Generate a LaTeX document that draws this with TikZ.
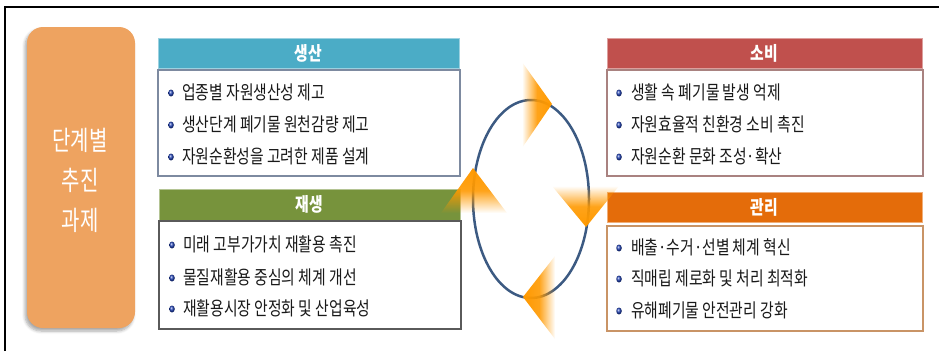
\documentclass[tikz,border=0pt]{standalone}
\usepackage{fontspec}
\newfontfamily\kr[FakeStretch=0.78]{Noto Sans CJK KR}
\newfontfamily\krbig[FakeStretch=0.74]{Noto Sans CJK KR}
\usetikzlibrary{fadings,shadows.blur,shapes.geometric}
\definecolor{cyanH}{HTML}{4BACC6}
\definecolor{greenH}{HTML}{77933C}
\definecolor{redH}{HTML}{C0504D}
\definecolor{orangeH}{HTML}{E46C0A}
\definecolor{leftbox}{HTML}{EEA360}
\definecolor{ellc}{HTML}{3C5A82}
\definecolor{arrowO}{HTML}{FF9900}
\definecolor{bB}{HTML}{7D8AA0}
\definecolor{bG}{HTML}{5A5A5A}
\definecolor{bR}{HTML}{A98280}
\definecolor{bO}{HTML}{C99466}
\definecolor{bulletc}{HTML}{2244BB}
\tikzfading[name=fadeW, left color=transparent!100, right color=transparent!0, middle color=transparent!10]
\tikzfading[name=fadeE, left color=transparent!0, right color=transparent!100, middle color=transparent!10]
\tikzfading[name=fadeN, top color=transparent!100, bottom color=transparent!0, middle color=transparent!10]
\tikzfading[name=fadeS, top color=transparent!0, bottom color=transparent!100, middle color=transparent!10]
\tikzset{
  hdr/.style={draw=#1!55!white, line width=0.8pt, fill=#1, text=white, inner sep=0pt,
    font=\kr\bfseries\fontsize{19}{22}\selectfont},
  bodybox/.style={draw=#1, line width=1.2pt, fill=white, inner sep=0pt},
  item/.style={anchor=west, inner sep=0pt, text=black!90, font=\kr\fontsize{19}{22}\selectfont},
  bul/.style={ellipse, inner sep=0pt, minimum width=5.5pt, minimum height=7pt, ball color=bulletc},
  arr/.style={fill=arrowO},
}
\begin{document}
\begin{tikzpicture}[x=1pt,y=-1pt]
\useasboundingbox (0,0) rectangle (939,351);
\draw[line width=2.2pt] (5,351) -- (5,7) -- (939,7);
% left box
\node[draw=none, fill=leftbox, rounded corners=16pt, minimum width=108pt, minimum height=301pt,
  blur shadow={shadow xshift=-2pt, shadow yshift=-3pt, shadow blur steps=6, shadow opacity=35, shadow blur radius=3pt},
  inner sep=0pt] (lb) at (81,177.5) {};
\node[text=white, align=center, font=\krbig\fontsize{27}{40}\selectfont, inner sep=0pt] (lbt) at (80,180) {단계별\\추진\\과제};
% 생산
\node[hdr=cyanH, minimum width=301pt, minimum height=30pt] (hA) at (308.5,53) {생산};
\node[bodybox=bB, minimum width=302pt, minimum height=106pt] (bA) at (309,123) {};
% 재생
\node[hdr=greenH, minimum width=301pt, minimum height=31pt] (hB) at (309.5,204.5) {재생};
\node[bodybox=bG, minimum width=302pt, minimum height=108pt] (bB) at (310,275) {};
% 소비
\node[hdr=redH, minimum width=315pt, minimum height=30pt] (hC) at (764.5,53) {소비};
\node[bodybox=bR, minimum width=316pt, minimum height=106pt] (bC) at (765,123) {};
% 관리
\node[hdr=orangeH, minimum width=315pt, minimum height=30pt] (hD) at (764.5,207) {관리};
\node[bodybox=bO, minimum width=316pt, minimum height=105pt] (bD) at (765,278.5) {};
% items
\node[bul] (a1b) at (171,93) {}; \node[item] (a1) at (182,92) {업종별 자원생산성 제고};
\node[bul] (a2b) at (171,125) {}; \node[item] (a2) at (182,124) {생산단계 폐기물 원천감량 제고};
\node[bul] (a3b) at (171,157) {}; \node[item] (a3) at (182,156) {자원순환성을 고려한 제품 설계};
\node[bul] (b1b) at (172,245) {}; \node[item] (b1) at (183,244) {미래 고부가가치 재활용 촉진};
\node[bul] (b2b) at (172,278) {}; \node[item] (b2) at (183,277) {물질재활용 중심의 체계 개선};
\node[bul] (b3b) at (172,309) {}; \node[item] (b3) at (183,308) {재활용시장 안정화 및 산업육성};
\node[bul] (c1b) at (619,93) {}; \node[item] (c1) at (631,92) {생활 속 폐기물 발생 억제};
\node[bul] (c2b) at (619,125) {}; \node[item] (c2) at (631,124) {자원효율적 친환경 소비 촉진};
\node[bul] (c3b) at (619,157) {}; \node[item] (c3) at (631,156) {자원순환 문화 조성·확산};
\node[bul] (d1b) at (619,248) {}; \node[item] (d1) at (631,247) {배출·수거·선별 체계 혁신};
\node[bul] (d2b) at (619,279) {}; \node[item] (d2) at (631,278) {직매립 제로화 및 처리 최적화};
\node[bul] (d3b) at (619,311) {}; \node[item] (d3) at (631,310) {유해폐기물 안전관리 강화};
% cycle
\draw[ellc, line width=2.5pt] (531,199) ellipse [x radius=58pt, y radius=99pt];
\fill[arr, path fading=fadeW] (522,62) -- (552,104) -- (522,148) -- cycle;
\fill[arr, path fading=fadeN] (552,186) -- (619,186) -- (586,227) -- cycle;
\fill[arr, path fading=fadeE] (555,256) -- (523,297) -- (555,339) -- cycle;
\fill[arr, path fading=fadeS] (441,213) -- (473,168) -- (507,213) -- cycle;
\end{tikzpicture}
\end{document}
